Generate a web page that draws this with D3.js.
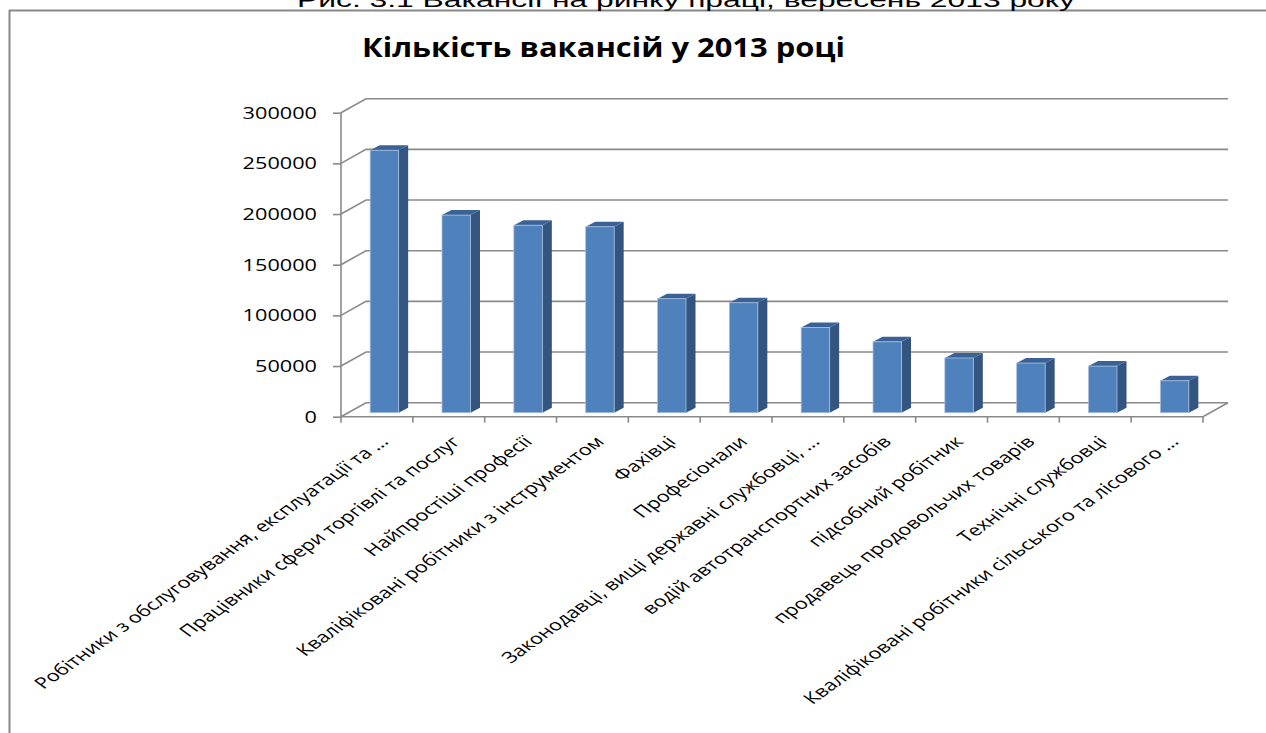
<!DOCTYPE html>
<html><head><meta charset="utf-8">
<script src="https://cdn.jsdelivr.net/npm/d3@7/dist/d3.min.js"></script>
<style>body{margin:0;background:#fff;} svg{display:block;}</style>
</head><body><svg id="c" width="1266" height="733"></svg>
<script>
const caption = "Рис. 3.1 Вакансії на ринку праці, вересень 2013 року";
const title = "Кількість вакансій у 2013 році";
const categories = [
  "Робітники з обслуговування, експлуатації та ...",
  "Працівники сфери торгівлі та послуг",
  "Найпростіші професії",
  "Кваліфіковані робітники з інструментом",
  "Фахівці",
  "Професіонали",
  "Законодавці, вищі державні службовці, ...",
  "водій автотранспортних засобів",
  "підсобний робітник",
  "продавець продовольчих товарів",
  "Технічні службовці",
  "Кваліфіковані робітники сільського та лісового ..."
];
const values = [259000, 195000, 185000, 183500, 112500, 108500, 84000, 70000, 54000, 49000, 46000, 31500];
const yTicks = [0, 50000, 100000, 150000, 200000, 250000, 300000];

const svg = d3.select("#c");
const SX = 1.4;               // horizontal stretch of the source picture
const x0 = 341, x1 = 1203, yBase = 416.7, yTop = 112.7;
const wallDX = 25, wallDY = -14;   // depth of floor / side wall
const barDX = 9.5, barDY = -5;     // depth of each bar
const barOffX = 7.5, barOffY = -4; // bar placement inside the depth
const gridColor = "#8a8a8a";

const x = d3.scaleBand().domain(categories).range([x0, x1]);
const y = d3.scaleLinear().domain([0, 300000]).range([yBase, yTop]);

// frame + caption
svg.append("line").attr("x1", 9).attr("x2", 1266).attr("y1", 10.5).attr("y2", 10.5)
  .attr("stroke", "#888").attr("stroke-width", 2);
svg.append("line").attr("x1", 9.5).attr("x2", 9.5).attr("y1", 10).attr("y2", 733)
  .attr("stroke", "#888").attr("stroke-width", 2);
svg.append("text").attr("x", 297).attr("y", 7)
  .attr("font-family", "Liberation Sans, Arial, sans-serif").attr("font-size", 21)
  .attr("textLength", 778).attr("lengthAdjust", "spacingAndGlyphs")
  .attr("fill", "#000").text(caption);

// title
svg.append("text").attr("x", 362).attr("y", 57)
  .attr("font-family", "Open Sans, Noto Sans, sans-serif").attr("font-weight", "bold").attr("font-size", 26)
  .attr("textLength", 483).attr("lengthAdjust", "spacingAndGlyphs")
  .attr("fill", "#000").text(title);

// back wall gridlines with side-wall diagonals
const grid = svg.append("g").attr("fill", "none").attr("stroke", gridColor).attr("stroke-width", 1.6);
grid.selectAll("path").data(yTicks).join("path")
  .attr("d", d => `M${x0},${y(d)}L${x0 + wallDX},${y(d) + wallDY}L${x1 + wallDX},${y(d) + wallDY}`);
// floor front edge and right edge
grid.append("path").attr("d", `M${x0},${yBase}L${x1},${yBase}L${x1 + wallDX},${yBase + wallDY}`);

// y axis
const yAxis = svg.append("g").attr("transform", `translate(${x0},0)`)
  .call(d3.axisLeft(y).tickValues(yTicks).tickSize(8).tickFormat(d => String(d)));
yAxis.select(".domain").attr("stroke", gridColor).attr("stroke-width", 1.6)
  .attr("d", `M0,${yTop}V${yBase + 6}`);
yAxis.selectAll(".tick line").attr("stroke", gridColor).attr("stroke-width", 1.6);
yAxis.selectAll(".tick text")
  .attr("x", -24 / SX).attr("dy", "0.36em")
  .attr("transform", `scale(${SX},1)`)
  .attr("font-family", "Open Sans, Noto Sans, sans-serif").attr("font-size", 15.5).attr("fill", "#000");

// x ticks at band boundaries
const bounds = categories.map(c => x(c)).concat([x1]);
svg.append("g").selectAll("line").data(bounds.slice(1)).join("line")
  .attr("x1", d => d).attr("x2", d => d).attr("y1", yBase).attr("y2", yBase + 6)
  .attr("stroke", gridColor).attr("stroke-width", 1.6);

// bars
const bw = 28.5;
const bars = svg.append("g").selectAll("g").data(categories).join("g");
bars.each(function(c, i) {
  const g = d3.select(this);
  const cx = x(c) + x.bandwidth() / 2 + barOffX;
  const l = cx - bw / 2, r = cx + bw / 2;
  const b = y(0) + barOffY, t = y(values[i]) + barOffY;
  g.append("path").attr("fill", "#33557f")
    .attr("d", `M${r},${t}L${r + barDX},${t + barDY}L${r + barDX},${b + barDY}L${r},${b}Z`);
  g.append("path").attr("fill", "#3b6296")
    .attr("d", `M${l},${t}L${l + barDX},${t + barDY}L${r + barDX},${t + barDY}L${r},${t}Z`);
  g.append("rect").attr("x", l).attr("y", t).attr("width", bw).attr("height", b - t)
    .attr("fill", "#4f81bd").attr("stroke", "#a9c0de").attr("stroke-width", 0.8);
});

// category labels, rotated 45° then stretched
svg.append("g").selectAll("text").data(categories).join("text")
  .attr("transform", c => `translate(${x(c) + x.bandwidth() / 2 + 2},${435}) scale(${SX},1) rotate(-45)`)
  .attr("text-anchor", "end").attr("dy", "0.7em")
  .attr("font-family", "Open Sans, Noto Sans, sans-serif").attr("font-size", 15.5).attr("fill", "#000")
  .text(c => c);
</script></body></html>
